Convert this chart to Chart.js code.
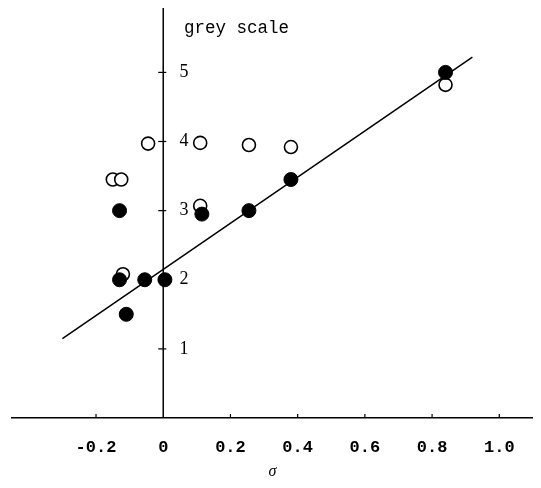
<!DOCTYPE html>
<html>
<head>
<meta charset="utf-8">
<script src="https://cdn.jsdelivr.net/npm/chart.js@4.4.1/dist/chart.umd.min.js"></script>
<style>
  html, body { margin: 0; padding: 0; background: #fff; }
</style>
</head>
<body>
<canvas id="grafico" width="541" height="488"></canvas>
<script>
// eixos e rótulos
const xTicks = [-0.2, 0, 0.2, 0.4, 0.6, 0.8, 1.0];
const xTickLabels = ["-0.2", "0", "0.2", "0.4", "0.6", "0.8", "1.0"];
const yTicks = [1, 2, 3, 4, 5];
const yTickLabels = ["1", "2", "3", "4", "5"];

// pontos abertos (círculos vazios)
const abertosX = [-0.15, -0.125, -0.045, 0.11, 0.255, 0.38, 0.11, -0.12, 0.84];
const abertosY = [3.45, 3.45, 3.97, 3.98, 3.95, 3.92, 3.07, 2.08, 4.82];

// pontos cheios (círculos pretos)
const cheiosX = [-0.13, -0.13, -0.055, 0.005, -0.11, 0.115, 0.255, 0.38, 0.84];
const cheiosY = [3.0, 2.0, 2.0, 2.0, 1.5, 2.95, 3.0, 3.45, 5.0];

// reta ajustada (extremos)
const retaX = [-0.30, 0.92];
const retaY = [1.15, 5.22];

const pares = (xs, ys) => xs.map((x, i) => ({ x: x, y: ys[i] }));

// desenha o eixo vertical em σ = 0, as marcas e o texto "grey scale"
const eixos = {
  id: 'eixos',
  beforeDatasetsDraw(chart) {
    const ctx = chart.ctx;
    const sx = chart.scales.x;
    const sy = chart.scales.y;
    const area = chart.chartArea;
    const x0 = sx.getPixelForValue(0);
    ctx.save();
    ctx.strokeStyle = '#000';
    ctx.lineWidth = 1.5;
    ctx.beginPath();
    ctx.moveTo(x0, area.top);
    ctx.lineTo(x0, area.bottom);
    ctx.stroke();

    ctx.lineWidth = 1.2;
    yTicks.forEach(v => {
      const py = sy.getPixelForValue(v);
      ctx.beginPath();
      ctx.moveTo(x0 - 5, py);
      ctx.lineTo(x0 + 3, py);
      ctx.stroke();
    });
    xTicks.forEach(v => {
      if (v === 0) return;
      const px = sx.getPixelForValue(v);
      ctx.beginPath();
      ctx.moveTo(px, area.bottom);
      ctx.lineTo(px, area.bottom - 4);
      ctx.stroke();
    });

    ctx.fillStyle = '#000';
    ctx.font = '17.5px "Liberation Mono"';
    ctx.textAlign = 'left';
    ctx.textBaseline = 'alphabetic';
    ctx.fillText('grey scale', 184, 33);
    ctx.restore();
  }
};

new Chart(document.getElementById('grafico'), {
  type: 'scatter',
  data: {
    datasets: [
      {
        label: 'cheios',
        data: pares(cheiosX, cheiosY),
        pointRadius: 7,
        pointBackgroundColor: '#000',
        pointBorderColor: '#000',
        pointBorderWidth: 1,
        order: 0
      },
      {
        label: 'abertos',
        data: pares(abertosX, abertosY),
        pointRadius: 6.5,
        pointBackgroundColor: '#fff',
        pointBorderColor: '#000',
        pointBorderWidth: 1.6,
        order: 1
      },
      {
        label: 'reta',
        data: pares(retaX, retaY),
        showLine: true,
        pointRadius: 0,
        borderColor: '#000',
        borderWidth: 1.5,
        order: 2
      }
    ]
  },
  options: {
    responsive: false,
    animation: false,
    layout: { padding: { top: 0, left: 12, right: 6, bottom: 4.4 } },
    plugins: {
      legend: { display: false },
      tooltip: { enabled: false }
    },
    scales: {
      x: {
        type: 'linear',
        min: -0.45,
        max: 1.10,
        afterBuildTicks: (scale) => { scale.ticks = xTicks.map(v => ({ value: v })); },
        grid: { display: false, drawTicks: false },
        border: { display: true, color: '#000', width: 1.5 },
        ticks: {
          padding: 20,
          color: '#000',
          font: { family: '"Liberation Mono"', size: 17, weight: 'bold' },
          callback: (v) => xTickLabels[xTicks.findIndex(t => Math.abs(t - v) < 1e-6)]
        },
        title: {
          display: true,
          text: 'σ',
          color: '#000',
          padding: { top: -16, bottom: 2 },
          font: { family: '"Liberation Serif"', size: 16, style: 'italic' }
        }
      },
      y: {
        type: 'linear',
        min: 0,
        max: 5.93,
        position: { x: 0.075 },
        afterBuildTicks: (scale) => { scale.ticks = yTicks.map(v => ({ value: v })); },
        grid: { display: false, drawTicks: false },
        border: { display: false },
        ticks: {
          padding: 0,
          color: '#000',
          font: { family: '"Liberation Serif"', size: 18, lineHeight: 0.34 },
          callback: (v) => yTickLabels[yTicks.indexOf(v)]
        }
      }
    }
  },
  plugins: [eixos]
});
</script>
</body>
</html>
